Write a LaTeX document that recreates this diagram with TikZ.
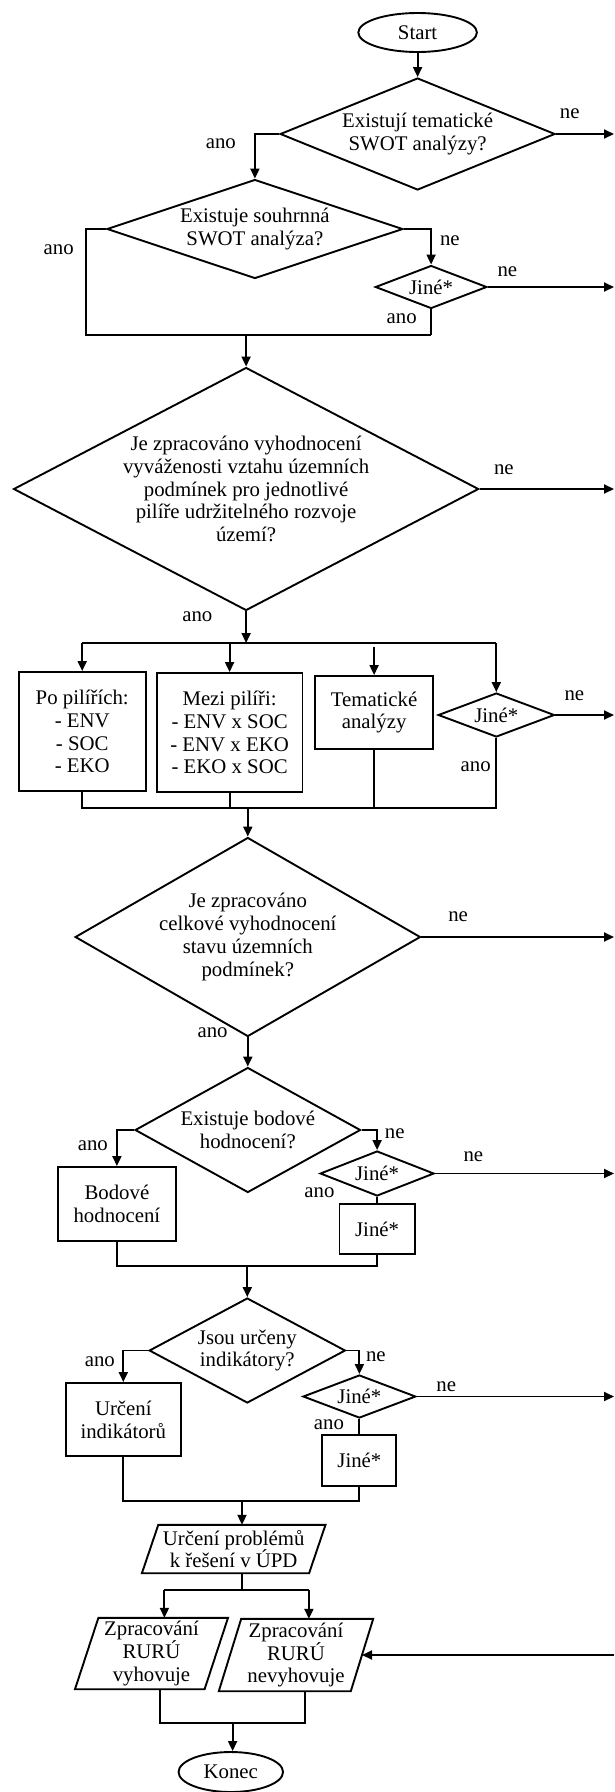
\documentclass[tikz,border=0pt]{standalone}
\usepackage{fontspec}
\setmainfont{Liberation Serif}
\usetikzlibrary{shapes.geometric,arrows.meta}
\begin{document}
\begin{tikzpicture}[x=1pt,y=-1pt,
  every node/.style={font=\fontsize{20.8}{22.8}\selectfont},
  ln/.style={line width=1.9pt},
  arr/.style={ln,-{Triangle[length=10pt,width=9pt]}},
  dec/.style={diamond,draw,ln,inner sep=0pt,align=center},
  blk/.style={rectangle,draw,ln,inner sep=0pt,align=center},
  term/.style={ellipse,draw,ln,inner sep=0pt},
  io/.style={rectangle,inner sep=0pt,align=center},
  lbl/.style={inner sep=0pt}]
\useasboundingbox (0,0) rectangle (614,1792);

% ---- nodes ----
\node[term,minimum width=118.6pt,minimum height=39pt] (start) at (417.6,32.5) {Start};
\node[dec,minimum width=274.9pt,minimum height=112pt,shape aspect=2.45] (d1) at (417.6,134) {Existují tematické\\SWOT analýzy?};
\node[dec,minimum width=296pt,minimum height=99pt,shape aspect=2.99] (d2) at (254.9,229) {Existuje souhrnná\\SWOT analýza?};
\node[dec,minimum width=111.6pt,minimum height=43pt,shape aspect=2.6] (j1) at (431.1,287) {Jiné*};
\node[dec,minimum width=465.1pt,minimum height=243pt,shape aspect=1.91] (d3) at (246.1,489) {Je zpracováno vyhodnocení\\vyváženosti vztahu územních\\podmínek pro jednotlivé\\pilíře udržitelného rozvoje\\území?};
\node[blk,minimum width=126.9pt,minimum height=119pt] (b1) at (82.2,731.5) {Po pilířích:\\- ENV\\- SOC\\- EKO};
\node[blk,minimum width=145.7pt,minimum height=119pt] (b2) at (229.6,732.5) {Mezi pilíři:\\- ENV x SOC\\- ENV x EKO\\- EKO x SOC};
\node[blk,minimum width=117.5pt,minimum height=73pt] (b3) at (374.1,712.5) {Tematické\\analýzy};
\node[dec,minimum width=116.3pt,minimum height=44pt,shape aspect=2.64] (j2) at (496.3,715) {Jiné*};
\node[dec,minimum width=345.3pt,minimum height=199pt,shape aspect=1.73] (d4) at (247.8,937) {Je zpracováno\\celkové vyhodnocení\\stavu územních\\podmínek?};
\node[dec,minimum width=225.5pt,minimum height=125pt,shape aspect=1.8] (d5) at (247.8,1130) {Existuje bodové\\hodnocení?};
\node[blk,minimum width=117.5pt,minimum height=74pt] (bod) at (116.9,1204) {Bodové\\hodnocení};
\node[dec,minimum width=113.9pt,minimum height=45pt,shape aspect=2.53] (j3) at (377.1,1173.5) {Jiné*};
\node[blk,minimum width=75.2pt,minimum height=50pt] (jb3) at (377.1,1229) {Jiné*};
\node[dec,minimum width=196.2pt,minimum height=105pt,shape aspect=1.87] (d6) at (247.3,1350.5) {Jsou určeny\\indikátory?};
\node[blk,minimum width=115.1pt,minimum height=73pt] (ind) at (123.3,1419.5) {Určení\\indikátorů};
\node[dec,minimum width=112.8pt,minimum height=43pt,shape aspect=2.62] (j4) at (359.4,1396.5) {Jiné*};
\node[blk,minimum width=74pt,minimum height=51pt] (jb4) at (359.4,1460.5) {Jiné*};
\node[io,minimum width=166.8pt,minimum height=48pt] (p1) at (233.7,1549) {Určení problémů\\k řešení v ÚPD};
\node[io,minimum width=129.2pt,minimum height=71pt] (p2) at (151.5,1653.5) {Zpracování\\RURÚ\\vyhovuje};
\node[io,minimum width=131.6pt,minimum height=72pt] (p3) at (296,1655) {Zpracování\\RURÚ\\nevyhovuje};
\node[term,minimum width=104.5pt,minimum height=40pt] (konec) at (230.8,1772) {Konec};

% ---- parallelogram outlines ----
\draw[ln] ([xshift=-8.2pt]p1.south west) -- ([xshift=8.2pt]p1.north west) -- ([xshift=8.2pt]p1.north east) -- ([xshift=-8.2pt]p1.south east) -- cycle;
\draw[ln] ([xshift=-11.7pt]p2.south west) -- ([xshift=11.7pt]p2.north west) -- ([xshift=11.7pt]p2.north east) -- ([xshift=-11.7pt]p2.south east) -- cycle;
\draw[ln] ([xshift=-11.2pt]p3.south west) -- ([xshift=11.2pt]p3.north west) -- ([xshift=11.2pt]p3.north east) -- ([xshift=-11.2pt]p3.south east) -- cycle;

% ---- junction points ----
\coordinate (m1w) at (85.7,335);
\coordinate (m1e) at (431.1,335);
\coordinate (m1) at (246.1,335);
\coordinate (s2) at (246.1,643);
\coordinate (s2w) at (82.2,643);
\coordinate (s2e) at (496.3,643);
\coordinate (g3) at (374.1,647);
\coordinate (m3w) at (82.2,808);
\coordinate (m3e) at (496.3,808);
\coordinate (m3) at (247.8,808);
\coordinate (m4w) at (116.9,1266);
\coordinate (m4e) at (377.1,1266);
\coordinate (m4) at (247.3,1266);
\coordinate (m5w) at (123.3,1501);
\coordinate (m5e) at (359.4,1501);
\coordinate (m5) at (242,1501);
\coordinate (m6) at (242,1590);
\coordinate (m6w) at (164.4,1590);
\coordinate (m6e) at (308.9,1590);
\coordinate (m7w) at (159.7,1723);
\coordinate (m7e) at (305.4,1723);
\coordinate (m7) at (232.6,1723);
% exits at the right margin
\coordinate (r1) at (614,134);
\coordinate (r2) at (614,287);
\coordinate (r3) at (614,489);
\coordinate (r4) at (614,715);
\coordinate (r5) at (614,937);
\coordinate (r6) at (614,1173.5);
\coordinate (r7) at (614,1396.5);
\coordinate (r8) at (614,1655);

% ---- connectors ----
\draw[arr] (start.south) -- (d1.north);
\draw[arr] (d1.west) -| (d2.north);
\draw[arr] (d1.east) -- (r1);
\draw[ln] (d2.west) -| (m1w) -- (m1e);
\draw[arr] (d2.east) -| (j1.north);
\draw[arr] (j1.east) -- (r2);
\draw[ln] (j1.south) -- (m1e);
\draw[arr] (m1) -- (d3.north);
\draw[arr] (d3.east) -- (r3);
\draw[arr] (d3.south) -- (s2);
\draw[ln] (s2w) -- (s2e);
\draw[arr] (s2w) -- (b1.north);
\draw[arr] (b2.north |- s2w) -- (b2.north);
\draw[arr] (g3) -- (b3.north);
\draw[arr] (s2e) -- (j2.north);
\draw[arr] (j2.east) -- (r4);
\draw[ln] (b1.south) -- (m3w) -- (m3e) -- (j2.south);
\draw[ln] (b2.south) -- (b2.south |- m3w);
\draw[ln] (b3.south) -- (b3.south |- m3w);
\draw[arr] (m3) -- (d4.north);
\draw[arr] (d4.east) -- (r5);
\draw[arr] (d4.south) -- (d5.north);
\draw[arr] (d5.west) -| (bod.north);
\draw[arr] (d5.east) -| (j3.north);
\draw[arr] (j3.east) -- (r6);
\draw[ln] (j3.south) -- (jb3.north);
\draw[ln] (bod.south) -- (m4w) -- (m4e) -- (jb3.south);
\draw[arr] (m4) -- (d6.north);
\draw[arr] (d6.west) -| (ind.north);
\draw[arr] (d6.east) -| (j4.north);
\draw[arr] (j4.east) -- (r7);
\draw[ln] (j4.south) -- (jb4.north);
\draw[ln] (ind.south) -- (m5w) -- (m5e) -- (jb4.south);
\draw[arr] (m5) -- (m5 |- p1.north);
\draw[ln] (m6 |- p1.south) -- (m6);
\draw[ln] (m6w) -- (m6e);
\draw[arr] (m6w) -- (m6w |- p2.north);
\draw[arr] (m6e) -- (m6e |- p3.north);
\draw[arr] (r8) -- (p3.east);
\draw[ln] (m7w |- p2.south) -- (m7w) -- (m7e) -- (m7e |- p3.south);
\draw[arr] (m7) -- (m7 |- konec.north);

% ---- branch labels ----
\node[lbl] (l1) at (569.7,114) {ne};
\node[lbl] (l2) at (220.8,144) {ano};
\node[lbl] (l3) at (58.7,250) {ano};
\node[lbl] (l4) at (449.9,241) {ne};
\node[lbl] (l5) at (507.4,272) {ne};
\node[lbl] (l6) at (401.7,319) {ano};
\node[lbl] (l7) at (503.9,470) {ne};
\node[lbl] (l8) at (197.3,617) {ano};
\node[lbl] (l9) at (574.4,696) {ne};
\node[lbl] (l10) at (475.7,767) {ano};
\node[lbl] (l11) at (458.1,917) {ne};
\node[lbl] (l12) at (212.6,1033) {ano};
\node[lbl] (l13) at (92.8,1146) {ano};
\node[lbl] (l14) at (394.7,1134) {ne};
\node[lbl] (l15) at (473.4,1157) {ne};
\node[lbl] (l16) at (319.5,1193) {ano};
\node[lbl] (l17) at (99.8,1362) {ano};
\node[lbl] (l18) at (375.9,1357) {ne};
\node[lbl] (l19) at (446.3,1387) {ne};
\node[lbl] (l20) at (328.9,1425) {ano};
\end{tikzpicture}
\end{document}
